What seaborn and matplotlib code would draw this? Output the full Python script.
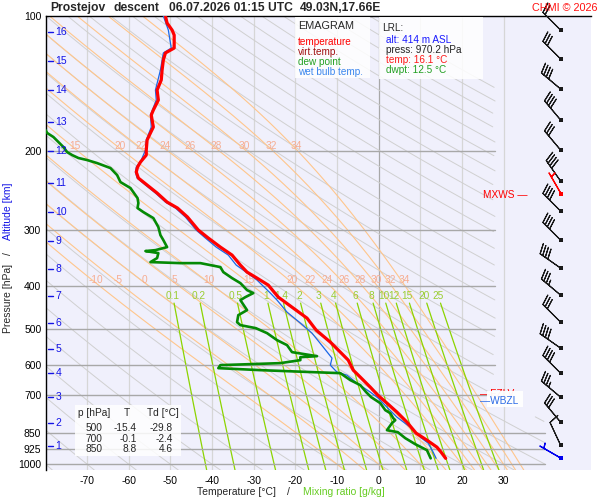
import numpy as np
import matplotlib
matplotlib.use('Agg')
import matplotlib.pyplot as plt
import matplotlib.transforms as mtrans
from matplotlib.patches import Rectangle
import seaborn as sns

# ---- sounding (descent), pressure hPa / temperature degC ----
temp_p = [100, 103.7, 107.5, 110.3, 117.9, 120.9, 125.4, 132.0, 138.9, 146.3, 154.0, 162.1,
          166.3, 170.6, 176.9, 182.4, 189.1, 199.1, 204.3, 211.8, 217.3, 222.9, 229.9, 238.3,
          248.3, 260.1, 268.2, 280.9, 300.3, 312.9, 327.8, 341.5, 359.5, 372.7, 384.4, 398.4,
          423.8, 448.4, 472.1, 502.1, 534.0, 562.2, 585.8, 616.7, 639.3, 673.0, 701.2, 730.6,
          765.1, 805.5, 852.4, 883.6, 916.0, 939.8, 970.2]
temp_t = [-51.2, -50.8, -49.6, -49.1, -49.1, -51.2, -51.7, -52.0, -52.2, -53.2, -52.9, -54.1,
          -54.6, -54.4, -54.1, -54.8, -55.6, -55.8, -55.8, -57.2, -57.9, -58.2, -57.7, -55.6,
          -53.2, -50.8, -48.3, -45.9, -43.3, -40.9, -38.0, -35.2, -33.2, -31.6, -29.2, -26.5,
          -24.1, -20.5, -17.2, -15.0, -11.6, -9.2, -7.3, -6.1, -4.4, -2.0, -0.2, 2.0,
          4.4, 6.8, 9.0, 11.6, 14.0, 15.0, 16.1]

dewp_p = [179.6, 182.4, 186.2, 196.0, 201.2, 204.3, 207.4, 209.6, 212.9, 218.4, 226.4, 234.7,
          242.0, 254.8, 261.4, 268.2, 273.8, 282.4, 295.7, 308.2, 316.2, 327.8, 332.9, 334.5,
          338.0, 346.8, 354.0, 355.9, 355.9, 363.2, 372.7, 384.4, 394.4, 408.8, 415.1, 423.8,
          430.4, 453.1, 464.9, 482.0, 489.4, 497.0, 509.9, 528.6, 542.3, 562.2, 574.0, 576.9,
          585.8, 594.9, 601.0, 610.4, 616.7, 623.1, 626.3, 632.8, 649.1, 666.1, 690.4, 708.5,
          730.6, 757.5, 769.2, 789.2, 797.4, 809.8, 839.4, 848.1, 874.6, 902.1, 930.2, 970.2]
dewp_t = [-80.0, -79.6, -78.1, -75.7, -74.8, -73.6, -72.1, -70.0, -67.6, -64.4, -62.8, -62.0,
          -59.6, -57.9, -57.7, -57.9, -56.5, -54.1, -52.9, -52.4, -51.7, -50.8, -53.6, -56.0,
          -52.9, -53.2, -54.8, -47.6, -42.8, -38.0, -37.3, -35.2, -33.2, -31.6, -30.1, -32.0,
          -33.2, -31.6, -33.7, -34.0, -33.2, -29.5, -26.8, -24.4, -22.0, -20.8, -14.8, -18.8,
          -18.8, -23.6, -38.0, -38.5, -28.4, -15.7, -9.2, -8.5, -6.8, -4.4, -3.0, -1.8,
          0.4, 1.6, 2.8, 3.5, 4.0, 3.2, 2.0, 4.6, 6.4, 8.8, 11.6, 12.5]

wetb_p = [100, 107.5, 117.9, 120.9, 132.0, 146.3, 154.0, 166.3, 176.9, 189.1, 199.1, 209.6,
          217.3, 222.9, 229.9, 238.3, 248.3, 260.1, 268.2, 280.9, 300.3, 312.9, 327.8, 341.5,
          359.5, 368.9, 388.3, 415.1, 430.4, 457.7, 484.3, 509.9, 547.9, 579.8, 601.0, 623.1,
          632.8, 659.3, 690.4, 712.1, 746.1, 785.1, 826.6, 870.1, 897.4, 939.8, 970.2]
wetb_t = [-51.7, -50.5, -49.8, -51.7, -52.4, -53.6, -53.4, -54.8, -54.6, -55.8, -56.0, -57.0,
          -58.2, -58.4, -58.0, -56.0, -53.6, -51.2, -48.8, -46.4, -43.8, -41.6, -39.0, -36.1,
          -34.2, -32.5, -29.2, -26.0, -24.4, -22.0, -18.8, -16.0, -13.3, -11.2, -11.6, -10.0,
          -7.6, -5.2, -2.0, -0.1, 2.0, 4.4, 7.6, 10.0, 11.9, 13.1, 13.8]

# ---- winds ----
wind_p = [107.5, 124.7, 145.5, 170.6, 199.1, 233.5, 272.4, 316.2, 365.1, 419.4, 481.9,
          550.8, 626.3, 708.5, 805.5, 906.6]
wind_dir = [315, 315, 310, 320, 320, 325, 315, 315, 305, 310, 315, 305, 315, 310, 320, 335]
wind_kt = [20, 30, 40, 40, 30, 40, 40, 40, 40, 35, 30, 40, 40, 35, 30, 10]
mxws_p, mxws_dir, mxws_kt = 250.0, 330, 5
sfc_p, sfc_dir, sfc_kt = 970.2, 300, 5
fzlv_p, wbzl_p = 701, 735
mxws_lbl_p = 251

# ---- axes furniture ----
p_levels = [100, 200, 300, 400, 500, 600, 700, 850, 925, 1000]
t_ticks = [-70, -60, -50, -40, -30, -20, -10, 0, 10, 20, 30]
alt_km = list(range(1, 17))
alt_p = [911, 809, 708, 626, 553, 484, 422, 367, 318, 274, 236, 200, 172, 146, 126, 108.6]
mix_ratios = [0.1, 0.2, 0.5, 1, 1.4, 2, 3, 4, 6, 8, 10, 12, 15, 20, 25]
theta_w = [-10, -5, 0, 5, 10, 15, 20, 22, 24, 26, 28, 30, 32, 34]
theta_dry = list(range(-80, 260, 10))

# ---- info boxes ----
tab_p = [500, 700, 850]
tab_t = [-15.4, -0.1, 8.8]
tab_td = [-29.8, -2.4, 4.6]
lrl_alt, lrl_press, lrl_temp, lrl_dwpt = 414, 970.2, 16.1, 12.5

sns.set_theme(style='white')
plt.rcParams['font.family'] = ['Liberation Sans', 'DejaVu Sans']

BG = '#f0f0fc'
GRID = '#a8a8a8'
ISO = '#d6d6d6'
DRY = '#d0d0d0'
MOIST = '#ffc68c'
MIXC = '#8cd400'
MIXT = '#9acd32'
MLAB = '#f6ad92'


def fp(x, y):
    return x / 600, 1 - y / 500


def tlim(p):
    return np.where(p < 780, 28.0, 40.0)


fig = plt.figure(figsize=(6, 5), dpi=100)
fig.patch.set_facecolor('white')
ax = fig.add_axes([45.5 / 600, 30 / 500, 545.5 / 600, 454 / 500])
ax.set_facecolor(BG)
ax.set_yscale('log')
ax.set_xlim(-80, 51)
ax.set_ylim(1030, 100)

pp = np.geomspace(1030, 100, 300)

# isotherms
for t in t_ticks:
    ax.axvline(t, color=GRID if t == 0 else ISO, lw=0.9, zorder=0.5)

# dry adiabats
for th in theta_dry:
    tt = (th + 273.15) * (pp / 1000.0) ** 0.2857 - 273.15
    tt = np.where(tt > tlim(pp), np.nan, tt)
    ax.plot(tt, pp, color=DRY, lw=0.7, zorder=0.6)

# moist adiabats
Rd, cp, Lv, eps = 287.04, 1005.7, 2.501e6, 0.622


def esat(tc):
    return 6.112 * np.exp(17.67 * tc / (tc + 243.5))


def dtdp(p, T):
    e = esat(T - 273.15)
    rs = eps * e / (p - e)
    return (Rd * T + Lv * rs) / (p * (cp + Lv * Lv * rs * eps / (Rd * T * T)))


def moist(tw):
    segs = []
    for ps in (np.linspace(1000, 1030, 7), np.linspace(1000, 100, 361)):
        T = tw + 273.15
        seg = [T]
        for i in range(len(ps) - 1):
            dp = ps[i + 1] - ps[i]
            k1 = dtdp(ps[i], T)
            k2 = dtdp(ps[i] + dp / 2, T + k1 * dp / 2)
            T = T + k2 * dp
            seg.append(T)
        segs.append((ps, np.array(seg)))
    (pd_, td_), (pu_, tu_) = segs
    p_all = np.concatenate([pd_[::-1], pu_[1:]])
    t_all = np.concatenate([td_[::-1], tu_[1:]]) - 273.15
    return p_all, t_all


for tw in theta_w:
    mp, mt = moist(tw)
    ax.plot(mt, mp, color=MOIST, lw=0.8, zorder=0.7)
    for plab in (195, 388):
        tl = np.interp(np.log(plab), np.log(mp[::-1]), mt[::-1])
        if -78 < tl < 40:
            ax.text(tl + 0.8, plab, f'{tw}', color=MLAB, fontsize=7.3, ha='center', va='center',
                    zorder=0.9)

# mixing ratio lines
pm = np.geomspace(1030, 437, 80)
for w in mix_ratios:
    wk = w / 1000.0
    e = wk * pm / (eps + wk)
    le = np.log(e / 6.112)
    td = 243.5 * le / (17.67 - le)
    ax.plot(td, pm, color=MIXC, lw=0.9, zorder=0.8)
    e4 = wk * 421 / (eps + wk)
    l4 = np.log(e4 / 6.112)
    ax.text(243.5 * l4 / (17.67 - l4), 421, f'{w:g}', color=MIXT, fontsize=7.3,
            ha='center', va='center', zorder=0.9)

# pressure grid
for p in p_levels[1:]:
    ax.plot([-80, float(tlim(np.array(p)))], [p, p], color=GRID, lw=1.0, zorder=1)

# profiles
sns.lineplot(x=wetb_t, y=wetb_p, sort=False, estimator=None, color='#1a66e6', lw=0.9, ax=ax, zorder=3)
sns.lineplot(x=dewp_t, y=dewp_p, sort=False, estimator=None, color='#058a05', lw=1.9, ax=ax, zorder=3)
sns.lineplot(x=temp_t, y=temp_p, sort=False, estimator=None, color='#ff0000', lw=2.3, ax=ax, zorder=4)

# winds
wx = 43.7
wd = np.radians(wind_dir)
ws = np.array(wind_kt, dtype=float)
ax.barbs(np.full(len(wind_p), wx), wind_p, -ws * np.sin(wd), -ws * np.cos(wd),
         length=6, lw=0.8, color='k', zorder=5, clip_on=False)
ax.scatter(np.full(len(wind_p), wx), wind_p, marker='s', s=6, color='k', lw=0, zorder=6, clip_on=False)
md = np.radians(mxws_dir)
ax.barbs([wx], [mxws_p], [-mxws_kt * np.sin(md)], [-mxws_kt * np.cos(md)],
         length=6, lw=0.9, color='red', zorder=5)
ax.scatter([wx], [mxws_p], marker='s', s=6, color='red', lw=0, zorder=6)
sd = np.radians(sfc_dir)
ax.barbs([wx], [sfc_p], [-sfc_kt * np.sin(sd)], [-sfc_kt * np.cos(sd)],
         length=6, lw=0.9, color='#0000ee', zorder=5)
ax.scatter([wx], [sfc_p], marker='s', s=8, color='#0000ee', lw=0, zorder=6)

# altitude ticks (inside)
bt = mtrans.blended_transform_factory(ax.transAxes, ax.transData)
for km, pk in zip(alt_km, alt_p):
    ax.plot([0.004, 0.0145], [pk, pk], color='#1414e6', lw=1.0, transform=bt, zorder=6)
    ax.text(0.018, pk, str(km), color='#1414e6', fontsize=7.5, ha='left', va='center',
            transform=bt, zorder=6)

# axes styling
ax.set_yticks(p_levels)
ax.set_yticklabels([str(p) for p in p_levels])
ax.yaxis.set_minor_locator(matplotlib.ticker.NullLocator())
ax.set_xticks(t_ticks)
ax.set_xticklabels([str(t) for t in t_ticks])
ax.tick_params(axis='both', length=0, labelsize=7.5, colors='black')
ax.tick_params(axis='y', pad=3)
ax.tick_params(axis='x', pad=4)
ax.set_xlabel('')
ax.set_ylabel('')
for s in ['right', 'bottom']:
    ax.spines[s].set_visible(False)
for s in ['left', 'top']:
    ax.spines[s].set_color('black')
    ax.spines[s].set_linewidth(1.0)
ax.grid(False)

# max wind level label
ax.text(35.8, mxws_lbl_p, 'MXWS \u2014', color='red', fontsize=7.3, ha='right', va='center', zorder=7)

# title
fig.text(*fp(50, 8), 'Prostejov', fontsize=8.7, fontweight='bold', va='center')
fig.text(*fp(114, 8), 'descent', fontsize=8.7, fontweight='bold', va='center')
fig.text(*fp(169, 8), '06.07.2026 01:15 UTC', fontsize=8.7, fontweight='bold', va='center')
fig.text(*fp(300, 8), '49.03N,17.66E', fontsize=8.7, fontweight='bold', va='center')
fig.text(*fp(597, 8), 'CHMI \u00a9 2026', fontsize=7.8, color='#ff1010', ha='right', va='center')

# legend box
fig.add_artist(Rectangle(fp(295, 78), 75 / 600, 61 / 500, transform=fig.transFigure,
                         facecolor='white', edgecolor='none', alpha=0.85, zorder=2.5))
fig.text(*fp(298, 26), 'EMAGRAM', fontsize=7.8, va='center')
for yy, txt, col in [(42, 'temperature', '#ff0000'), (52, 'virt.temp.', '#a01010'),
                     (62, 'dew point', '#22a022'), (72, 'wet bulb temp.', '#3a86ee')]:
    fig.text(*fp(298, yy), txt, fontsize=7.2, color=col, va='center')

# LRL box
fig.add_artist(Rectangle(fp(379, 79), 104 / 600, 62 / 500, transform=fig.transFigure,
                         facecolor='white', edgecolor='none', alpha=0.85, zorder=2.5))
fig.text(*fp(382, 28), 'LRL:', fontsize=7.2, va='center')
for yy, txt, col in [(40, f'alt: {lrl_alt} m ASL', '#1a1aff'),
                     (50, f'press: {lrl_press} hPa', '#222222'),
                     (60, f'temp: {lrl_temp} \u00b0C', '#ff1a1a'),
                     (70, f'dwpt: {lrl_dwpt} \u00b0C', '#22a022')]:
    fig.text(*fp(386, yy), txt, fontsize=7.2, color=col, va='center')

# table box
fig.add_artist(Rectangle(fp(75, 456), 106 / 600, 51 / 500, transform=fig.transFigure,
                         facecolor='white', edgecolor='none', alpha=0.85, zorder=2.5))
fig.text(*fp(78, 413), 'p [hPa]', fontsize=7.3, va='center')
fig.text(*fp(127, 413), 'T', fontsize=7.3, va='center', ha='center')
fig.text(*fp(147, 413), 'Td [\u00b0C]', fontsize=7.3, va='center')
for yy, a, b, c in zip([428, 439, 449], tab_p, tab_t, tab_td):
    fig.text(*fp(102, yy), f'{a}', fontsize=7.3, va='center', ha='right')
    fig.text(*fp(137, yy), f'{b:.1f}', fontsize=7.3, va='center', ha='right')
    fig.text(*fp(173, yy), f'{c:.1f}', fontsize=7.3, va='center', ha='right')

# FZLV / WBZL (WBZL box sits over the FZLV label, as in the original)
fig.text(*fp(480, 394), '\u2014FZLV', fontsize=7.3, color='red', va='center', zorder=3)
fig.add_artist(Rectangle(fp(487, 407), 36 / 600, 16 / 500, transform=fig.transFigure,
                         facecolor='white', edgecolor='none', alpha=0.95, zorder=3.5))
fig.text(*fp(480, 401), '\u2014WBZL', fontsize=7.3, color='#2a6ae6', va='center', zorder=4)

# axis titles
fig.text(*fp(197, 492), 'Temperature [\u00b0C]', fontsize=7.5, va='center')
fig.text(*fp(287, 492), '/', fontsize=7.5, va='center')
fig.text(*fp(303, 492), 'Mixing ratio [g/kg]', fontsize=7.5, va='center', color='#66cc22')
fig.text(*fp(8, 333), 'Pressure [hPa]', fontsize=7.5, rotation=90, ha='center', va='bottom')
fig.text(*fp(8, 254), '/', fontsize=7.5, rotation=90, ha='center', va='center')
fig.text(*fp(8, 240), 'Altitude [km]', fontsize=7.5, rotation=90, ha='center', va='bottom',
         color='#1414e6')

fig.savefig('out.png', dpi=100, facecolor='white')
